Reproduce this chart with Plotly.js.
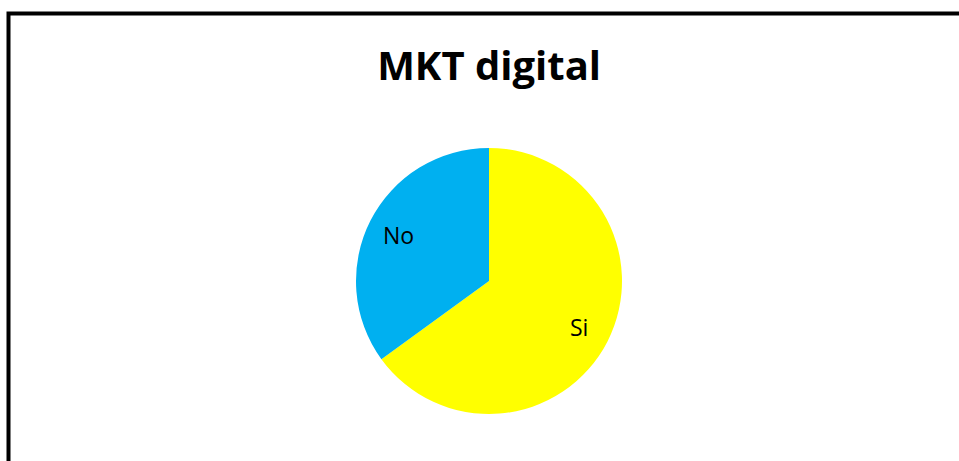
<!DOCTYPE html>
<html>
<head>
<meta charset="utf-8">
<script src="https://cdn.plot.ly/plotly-3.0.1.min.js"></script>
<style>
html,body{margin:0;padding:0;background:#fff;}
#chart{width:959px;height:461px;}
</style>
</head>
<body>
<div id="chart"></div>
<script>
const labels = ["Si", "No"];
const values = [65, 35];
const colors = ["#FFFF00", "#00B0F0"];
const chartTitle = "MKT digital";

const W = 959, H = 461;
const cx = 489, cy = 281, R = 133;
const labelRadius = 0.76;

const trace = {
  type: "pie",
  labels: labels,
  values: values,
  marker: {colors: colors, line: {width: 0}},
  sort: false,
  direction: "clockwise",
  rotation: 0,
  textinfo: "none",
  hoverinfo: "label+value",
  showlegend: false,
  domain: {
    x: [(cx - R) / W, (cx + R) / W],
    y: [1 - (cy + R) / H, 1 - (cy - R) / H]
  }
};

// slice labels placed at each slice's mid-angle, derived from the data
const total = values.reduce((a, b) => a + b, 0);
let cum = 0;
const annotations = labels.map((lab, i) => {
  const mid = (cum + values[i] / 2) / total * 2 * Math.PI;
  cum += values[i];
  const px = cx + labelRadius * R * Math.sin(mid);
  const py = cy - labelRadius * R * Math.cos(mid);
  return {
    text: lab, xref: "paper", yref: "paper",
    x: px / W, y: 1 - py / H, xanchor: "center", yanchor: "middle",
    showarrow: false,
    font: {family: "Open Sans", size: 23, color: "#000"}
  };
});

const layout = {
  width: W, height: H,
  margin: {l: 0, r: 0, t: 0, b: 0},
  paper_bgcolor: "#fff",
  showlegend: false,
  title: {
    text: "<b>" + chartTitle + "</b>",
    font: {family: "Open Sans", size: 40, color: "#000"},
    x: 0.51, xanchor: "center",
    xref: "container", yref: "container",
    y: 1 - 66 / H, yanchor: "middle"
  },
  annotations: annotations,
  shapes: [{
    type: "rect", xref: "paper", yref: "paper",
    x0: 8.5 / W, x1: 1.05, y0: -0.1, y1: 1 - 13.5 / H,
    line: {color: "#000", width: 4}, fillcolor: "rgba(0,0,0,0)"
  }]
};

Plotly.newPlot("chart", [trace], layout, {displayModeBar: false, staticPlot: true});
</script>
</body>
</html>
